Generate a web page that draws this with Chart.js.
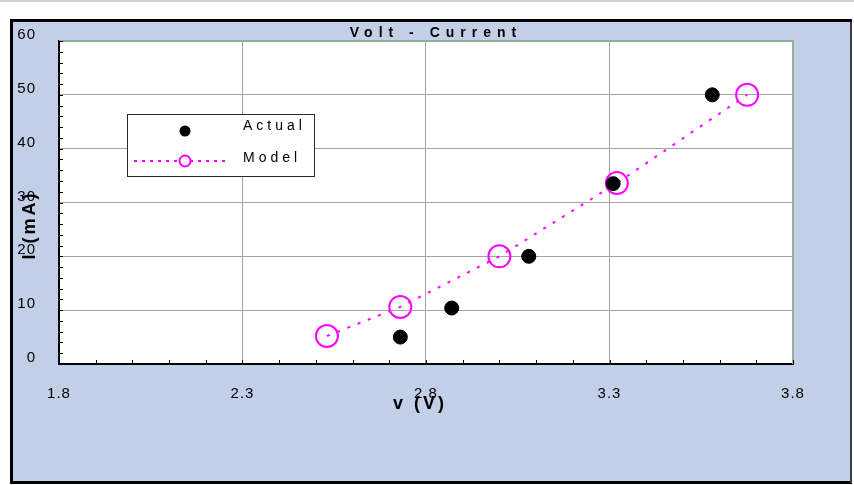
<!DOCTYPE html>
<html>
<head>
<meta charset="utf-8">
<script src="https://cdn.jsdelivr.net/npm/chart.js@4/dist/chart.umd.min.js"></script>
<style>
  html, body { margin: 0; padding: 0; background: #ffffff; }
  #wrap { width: 854px; height: 485px; position: relative; }
  canvas { display: block; }
</style>
</head>
<body>
<div id="wrap"><canvas id="chart" width="854" height="485"></canvas></div>
<script>
// Axis ticks
const xTicks = [1.8, 2.3, 2.8, 3.3, 3.8];
const yTicks = [0, 10, 20, 30, 40, 50, 60];

// Measured diode points: voltage (V) and current (mA)
const actualV = [2.73, 2.87, 3.08, 3.31, 3.58];
const actualI = [5.0, 10.4, 20.0, 33.5, 50.0];

// Model curve points
const modelV = [2.53, 2.73, 3.00, 3.32, 3.675];
const modelI = [5.2, 10.6, 20.0, 33.6, 50.0];

const chartTitle = 'Volt - Current';
const xTitle = 'v (V)';
const yTitle = 'I (mA)';
const seriesNames = ['Actual', 'Model'];

const PANEL = '#c3cfe6';
const MAGENTA = '#ff00ff';
const GRID = '#a3a3a3';
const FRAME_GREEN = '#8fb09d';
const TICK_FONT = '"Liberation Sans", Arial, sans-serif';

const toPoints = (xs, ys) => xs.map((x, i) => ({ x: x, y: ys[i] }));

// Background panel, frame and plot-area fill
const backdrop = {
  id: 'backdrop',
  beforeDraw(chart) {
    const ctx = chart.ctx;
    const a = chart.chartArea;
    ctx.save();
    ctx.fillStyle = '#ffffff';
    ctx.fillRect(0, 0, chart.width, chart.height);
    ctx.fillStyle = '#d2d2d2';
    ctx.fillRect(0, 0, chart.width, 2);
    // outer frame
    ctx.fillStyle = '#000000';
    ctx.fillRect(10, 19, 842, 465);
    ctx.fillStyle = '#3a3a44';
    ctx.fillRect(850, 22, 2, 461);
    ctx.fillStyle = PANEL;
    ctx.fillRect(13, 22, 837, 459);
    // plot area
    ctx.fillStyle = '#ffffff';
    ctx.fillRect(a.left, a.top, a.right - a.left, a.bottom - a.top);
    ctx.restore();
    ctx.letterSpacing = '1px';
  },
  afterDraw(chart) {
    chart.ctx.letterSpacing = '0px';
  }
};

// Plot border, inward minor ticks, titles and legend
const decorations = {
  id: 'decorations',
  afterDatasetsDraw(chart) {
    const ctx = chart.ctx;
    const a = chart.chartArea;
    const xs = chart.scales.x;
    const ys = chart.scales.y;
    ctx.save();
    ctx.letterSpacing = '0px';

    // top / right plot border
    ctx.strokeStyle = FRAME_GREEN;
    ctx.lineWidth = 2;
    ctx.beginPath();
    ctx.moveTo(a.left, a.top);
    ctx.lineTo(a.right, a.top);
    ctx.lineTo(a.right, a.bottom);
    ctx.stroke();

    // inward tick marks (every 0.1 V and every 2 mA)
    ctx.strokeStyle = '#000000';
    ctx.lineWidth = 1;
    ctx.beginPath();
    for (let k = 18; k <= 38; k++) {
      const px = Math.round(xs.getPixelForValue(k / 10)) + 0.5;
      ctx.moveTo(px, a.bottom);
      ctx.lineTo(px, a.bottom - 4);
    }
    for (let k = 0; k <= 60; k += 2) {
      const py = Math.round(ys.getPixelForValue(k)) + 0.5;
      ctx.moveTo(a.left, py);
      ctx.lineTo(a.left + 4, py);
    }
    ctx.stroke();

    // legend box
    ctx.fillStyle = '#ffffff';
    ctx.fillRect(127, 114, 187, 62);
    ctx.strokeStyle = '#2a2a2a';
    ctx.lineWidth = 1;
    ctx.strokeRect(127.5, 114.5, 187, 62);

    ctx.fillStyle = '#000000';
    ctx.beginPath();
    ctx.arc(185, 131, 5.5, 0, Math.PI * 2);
    ctx.fill();

    ctx.strokeStyle = MAGENTA;
    ctx.lineWidth = 2;
    ctx.setLineDash([3, 5]);
    ctx.beginPath();
    ctx.moveTo(134, 161);
    ctx.lineTo(230, 161);
    ctx.stroke();
    ctx.setLineDash([]);
    ctx.beginPath();
    ctx.arc(185, 161, 5.5, 0, Math.PI * 2);
    ctx.fillStyle = '#ffffff';
    ctx.fill();
    ctx.stroke();

    ctx.fillStyle = '#000000';
    ctx.font = '14px "Liberation Sans", Arial, sans-serif';
    ctx.letterSpacing = '4px';
    ctx.textAlign = 'left';
    ctx.textBaseline = 'middle';
    ctx.fillText(seriesNames[0], 243, 126);
    ctx.fillText(seriesNames[1], 243, 158);

    // chart title
    ctx.font = 'bold 14px "Liberation Sans", Arial, sans-serif';
    ctx.letterSpacing = '6px';
    ctx.textAlign = 'center';
    ctx.fillText(chartTitle, 436, 33);

    // axis titles
    ctx.font = 'bold 18px "Liberation Sans", Arial, sans-serif';
    ctx.letterSpacing = '3px';
    ctx.fillText(xTitle, 420, 404);

    ctx.save();
    ctx.translate(30, 225);
    ctx.rotate(-Math.PI / 2);
    ctx.fillText(yTitle, 0, 0);
    ctx.restore();

    ctx.restore();
  }
};

new Chart(document.getElementById('chart'), {
  type: 'scatter',
  data: {
    datasets: [
      {
        label: seriesNames[0],
        data: toPoints(actualV, actualI),
        showLine: false,
        pointRadius: 7,
        pointBackgroundColor: '#000000',
        pointBorderColor: '#000000',
        pointBorderWidth: 1,
        order: 0
      },
      {
        label: seriesNames[1],
        data: toPoints(modelV, modelI),
        showLine: true,
        borderColor: MAGENTA,
        borderWidth: 2,
        borderDash: [3, 8],
        pointRadius: 11,
        pointBorderWidth: 2,
        pointBorderColor: MAGENTA,
        pointBackgroundColor: 'rgba(0,0,0,0)',
        order: 1
      }
    ]
  },
  options: {
    responsive: false,
    devicePixelRatio: 1,
    animation: false,
    events: [],
    layout: { padding: { left: 15, top: 41, right: 61, bottom: 81 } },
    plugins: {
      legend: { display: false },
      title: { display: false },
      tooltip: { enabled: false }
    },
    scales: {
      x: {
        type: 'linear',
        min: xTicks[0],
        max: xTicks[xTicks.length - 1],
        afterBuildTicks(scale) { scale.ticks = xTicks.map(v => ({ value: v })); },
        afterFit(scale) { scale.height = 40; },
        grid: { color: GRID, lineWidth: 1, drawTicks: false },
        border: { display: true, color: '#000000', width: 2 },
        ticks: {
          padding: 21,
          color: '#000000',
          font: { family: TICK_FONT, size: 15 },
          callback: v => v.toFixed(1)
        }
      },
      y: {
        type: 'linear',
        min: yTicks[0],
        max: yTicks[yTicks.length - 1],
        afterBuildTicks(scale) { scale.ticks = yTicks.map(v => ({ value: v })); },
        afterFit(scale) { scale.width = 44; },
        grid: { color: GRID, lineWidth: 1, drawTicks: false },
        border: { display: true, color: '#000000', width: 2 },
        ticks: {
          padding: 23,
          labelOffset: -6,
          crossAlign: 'near',
          color: '#000000',
          font: { family: TICK_FONT, size: 15 },
          callback: v => String(v)
        }
      }
    }
  },
  plugins: [backdrop, decorations]
});
</script>
</body>
</html>
